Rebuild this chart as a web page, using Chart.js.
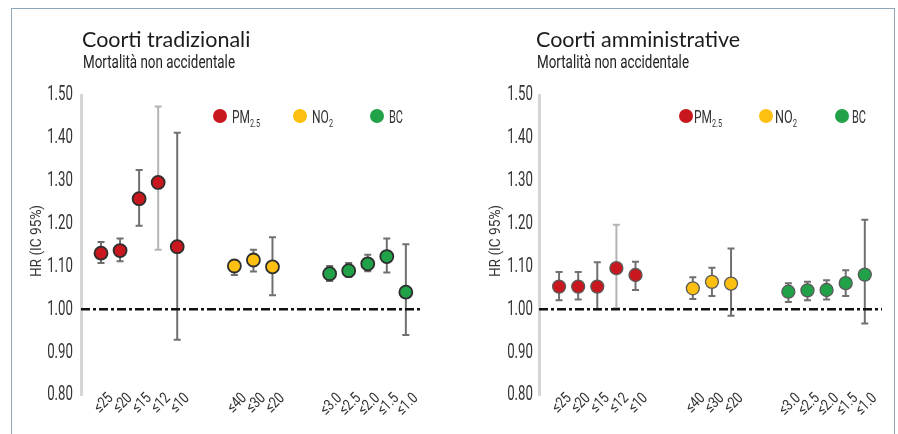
<!DOCTYPE html>
<html>
<head>
<meta charset="utf-8">
<script src="https://cdn.jsdelivr.net/npm/chart.js@4"></script>
<style>
  html, body { margin: 0; padding: 0; background: #fff; width: 898px; height: 434px; overflow: hidden; }
  #frame { position: absolute; left: 11px; top: 8px; width: 882px; height: 470px; border: 1.5px solid #8ea5ba; }
  .panel { position: absolute; top: 0; width: 449px; height: 434px; }
  .panel canvas { position: absolute; left: 0; top: 0; }
  .title { position: absolute; font-family: Lato, sans-serif; font-size: 21.5px; line-height: 21.5px; color: #1b1b1b; white-space: nowrap; }
  .sub { position: absolute; font-family: Roboto, sans-serif; font-size: 17.5px; line-height: 17.5px; color: #222; white-space: nowrap; transform-origin: 0 50%; }
  .leg { position: absolute; font-family: Roboto, sans-serif; font-size: 19px; line-height: 19px; color: #333; white-space: nowrap; transform-origin: 0 50%; }
  .leg .s { font-size: 11.5px; position: relative; top: 4px; }
  .dot { position: absolute; width: 14px; height: 14px; border-radius: 50%; }
</style>
</head>
<body>
<div id="frame"></div>

<div class="panel" style="left:0">
  <canvas id="trad" width="449" height="434"></canvas>
  <div class="title" style="left:82px; top:29px">Coorti tradizionali</div>
  <div class="sub" style="left:83px; top:54px" data-w="152">Mortalità non accidentale</div>
  <div class="dot" style="left:213px; top:109px; background:#c8171e"></div>
  <div class="leg" style="left:232px; top:107px" data-w="28">PM<span class="s">2.5</span></div>
  <div class="dot" style="left:293px; top:109px; background:#fdc010"></div>
  <div class="leg" style="left:312px; top:107px" data-w="21">NO<span class="s">2</span></div>
  <div class="dot" style="left:370px; top:109px; background:#21a248"></div>
  <div class="leg" style="left:389px; top:107px" data-w="14">BC</div>
</div>

<div class="panel" style="left:449px">
  <canvas id="adm" width="449" height="434"></canvas>
  <div class="title" style="left:87px; top:29px">Coorti amministrative</div>
  <div class="sub" style="left:88px; top:54px" data-w="152">Mortalità non accidentale</div>
  <div class="dot" style="left:230px; top:109px; background:#c8171e"></div>
  <div class="leg" style="left:245px; top:107px" data-w="28">PM<span class="s">2.5</span></div>
  <div class="dot" style="left:310px; top:109px; background:#fdc010"></div>
  <div class="leg" style="left:326px; top:107px" data-w="22">NO<span class="s">2</span></div>
  <div class="dot" style="left:386px; top:109px; background:#21a248"></div>
  <div class="leg" style="left:403px; top:107px" data-w="14">BC</div>
</div>

<script>
// Exposure thresholds (µg/m³ for PM2.5 and NO2, 10^-5/m for BC)
const pmLabels  = ['≤25', '≤20', '≤15', '≤12', '≤10'];
const no2Labels = ['≤40', '≤30', '≤20'];
const bcLabels  = ['≤3.0', '≤2.5', '≤2.0', '≤1.5', '≤1.0'];

const yTicks = [0.8, 0.9, 1.0, 1.1, 1.2, 1.3, 1.4, 1.5];
const yTitle = 'HR (IC 95%)';

// Traditional cohorts: hazard ratio and 95% CI
const pmTrad    = [1.131, 1.137, 1.258, 1.296, 1.146];
const pmTradLo  = [1.108, 1.112, 1.195, 1.139, 0.929];
const pmTradHi  = [1.157, 1.165, 1.325, 1.473, 1.412];
const no2Trad   = [1.101, 1.115, 1.099];
const no2TradLo = [1.080, 1.088, 1.033];
const no2TradHi = [1.112, 1.139, 1.168];
const bcTrad    = [1.083, 1.090, 1.106, 1.123, 1.040];
const bcTradLo  = [1.066, 1.076, 1.089, 1.086, 0.940];
const bcTradHi  = [1.101, 1.108, 1.127, 1.165, 1.152];

// Administrative cohorts: hazard ratio and 95% CI
const pmAdm    = [1.053, 1.053, 1.053, 1.096, 1.080];
const pmAdmLo  = [1.021, 1.023, 1.000, 1.003, 1.045];
const pmAdmHi  = [1.087, 1.087, 1.110, 1.197, 1.111];
const no2Adm   = [1.049, 1.064, 1.060];
const no2AdmLo = [1.024, 1.031, 0.985];
const no2AdmHi = [1.075, 1.097, 1.142];
const bcAdm    = [1.041, 1.044, 1.045, 1.061, 1.081];
const bcAdmLo  = [1.017, 1.021, 1.023, 1.031, 0.967];
const bcAdmHi  = [1.061, 1.064, 1.068, 1.091, 1.209];

// Slot layout along the x axis: each pollutant group starts at its own slot, with empty slots between groups
const GROUP_START = { pm: 0, no2: 7, bc: 12 };
const X_MIN = -1.05, X_MAX = 16.9;

const SANS = 'Roboto, sans-serif';
const COLORS = { pm: '#c8171e', no2: '#fdc010', bc: '#21a248' };

// Condense the narrow HTML labels to their set widths
document.querySelectorAll('[data-w]').forEach(el => {
  const w = el.getBoundingClientRect().width;
  el.style.transform = 'scaleX(' + (Number(el.dataset.w) / w) + ')';
});

const slotLabels = {};
pmLabels.forEach((l, i) => slotLabels[GROUP_START.pm + i] = l);
no2Labels.forEach((l, i) => slotLabels[GROUP_START.no2 + i] = l);
bcLabels.forEach((l, i) => slotLabels[GROUP_START.bc + i] = l);
const slotPositions = Object.keys(slotLabels).map(Number);

function points(start, values) {
  return values.map((v, i) => ({ x: start + i, y: v }));
}

// Confidence-interval whiskers, drawn beneath the markers
const ciBars = {
  id: 'ciBars',
  beforeDatasetsDraw(chart) {
    const { ctx, scales: { x, y } } = chart;
    ctx.save();
    chart.data.datasets.forEach(ds => {
      if (!ds.lo) return;
      ds.data.forEach((p, i) => {
        const px = x.getPixelForValue(p.x);
        const top = y.getPixelForValue(ds.hi[i]);
        const bot = y.getPixelForValue(ds.lo[i]);
        ctx.strokeStyle = ds.barColors[i];
        ctx.lineWidth = 2;
        ctx.beginPath();
        ctx.moveTo(px, top); ctx.lineTo(px, bot);
        ctx.moveTo(px - 3.5, top); ctx.lineTo(px + 3.5, top);
        ctx.moveTo(px - 3.5, bot); ctx.lineTo(px + 3.5, bot);
        ctx.stroke();
      });
    });
    ctx.restore();
  }
};

// Axis tick labels and axis title in a condensed setting
const condensedAxisText = {
  id: 'condensedAxisText',
  afterDraw(chart, args, o) {
    const { ctx, chartArea, scales: { x, y } } = chart;
    ctx.save();
    ctx.fillStyle = '#333';

    ctx.font = '19.5px ' + SANS;
    ctx.textAlign = 'right';
    ctx.textBaseline = 'middle';
    y.ticks.forEach(t => {
      ctx.save();
      ctx.translate(chartArea.left - o.yPad, y.getPixelForValue(t.value) + 0.5);
      ctx.scale(0.68, 1);
      ctx.fillText(t.label, 0, 0);
      ctx.restore();
    });

    ctx.font = '15.5px ' + SANS;
    x.ticks.forEach(t => {
      ctx.save();
      ctx.translate(x.getPixelForValue(t.value) + 10, chartArea.bottom + 1);
      ctx.rotate(-Math.PI / 4);
      ctx.scale(0.8, 1);
      ctx.fillText(t.label, 0, 0);
      ctx.restore();
    });

    ctx.font = '15.5px ' + SANS;
    ctx.textAlign = 'center';
    ctx.save();
    ctx.translate(o.titleX, (chartArea.top + chartArea.bottom) / 2 - 4);
    ctx.rotate(-Math.PI / 2);
    ctx.scale(0.88, 1);
    ctx.fillText(yTitle, 0, 0);
    ctx.restore();

    ctx.restore();
  }
};

function makePanel(id, series, opts) {
  const barColor = labels => labels.map(l => l === '≤12' ? '#b4b4b4' : '#707070');
  const seriesDs = ['pm', 'no2', 'bc'].map(k => ({
    data: points(GROUP_START[k], series[k].v),
    lo: series[k].lo,
    hi: series[k].hi,
    barColors: barColor(k === 'pm' ? pmLabels : k === 'no2' ? no2Labels : bcLabels),
    backgroundColor: COLORS[k],
    borderColor: opts.markerBorder,
    borderWidth: opts.markerBorderWidth,
    pointRadius: 6.5,
    order: 0
  }));
  const refLine = {
    data: [{ x: X_MIN, y: 1 }, { x: X_MAX, y: 1 }],
    showLine: true,
    borderColor: '#111',
    borderWidth: 2.5,
    borderDash: [9, 3, 3, 3],
    pointRadius: 0,
    order: 1
  };

  new Chart(document.getElementById(id), {
    type: 'scatter',
    data: { datasets: [refLine, ...seriesDs] },
    plugins: [ciBars, condensedAxisText],
    options: {
      responsive: false,
      animation: false,
      events: [],
      layout: { padding: { left: opts.padLeft, right: opts.padRight, top: 95, bottom: 0 } },
      plugins: {
        legend: { display: false },
        tooltip: { enabled: false },
        title: { display: false },
        condensedAxisText: { yPad: opts.yPad, titleX: opts.titleX }
      },
      scales: {
        x: {
          type: 'linear',
          min: X_MIN,
          max: X_MAX,
          grid: { display: false, drawTicks: false },
          border: { display: false },
          afterBuildTicks: s => { s.ticks = slotPositions.map(v => ({ value: v })); },
          afterFit: s => { s.height = 39; },
          ticks: { display: false, autoSkip: false, callback: v => slotLabels[v] || '' }
        },
        y: {
          min: 0.8,
          max: 1.5,
          grid: { display: false, drawTicks: false },
          border: { display: true, color: '#d6d6d6', width: 3 },
          afterBuildTicks: s => { s.ticks = yTicks.map(v => ({ value: v })); },
          afterFit: s => { s.width = opts.axisWidth; },
          ticks: { display: false, callback: v => v.toFixed(2) }
        }
      }
    }
  });
}

makePanel('trad', {
  pm:  { v: pmTrad,  lo: pmTradLo,  hi: pmTradHi },
  no2: { v: no2Trad, lo: no2TradLo, hi: no2TradHi },
  bc:  { v: bcTrad,  lo: bcTradLo,  hi: bcTradHi }
}, { padLeft: 22, axisWidth: 59, padRight: 26, yPad: 8, titleX: 37,
     markerBorder: '#2e2e2e', markerBorderWidth: 1.8 });

makePanel('adm', {
  pm:  { v: pmAdm,  lo: pmAdmLo,  hi: pmAdmHi },
  no2: { v: no2Adm, lo: no2AdmLo, hi: no2AdmHi },
  bc:  { v: bcAdm,  lo: bcAdmLo,  hi: bcAdmHi }
}, { padLeft: 32, axisWidth: 58, padRight: 16, yPad: 6, titleX: 47,
     markerBorder: '#5a5a5a', markerBorderWidth: 1.3 });
</script>
</body>
</html>
